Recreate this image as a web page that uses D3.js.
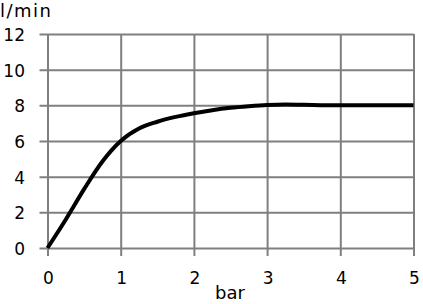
<!DOCTYPE html>
<html>
<head>
<meta charset="utf-8">
<script src="https://cdn.jsdelivr.net/npm/d3@7"></script>
<style>
  body { margin: 0; background: #fff; }
  text { font-family: "DejaVu Sans", Verdana, sans-serif; fill: #000; }
</style>
</head>
<body>
<svg id="chart" width="423" height="304"></svg>
<script>
// data: flow (l/min) against pressure (bar)
let pressure = [0, 0.25, 0.5, 0.75, 1, 1.25, 1.5, 1.75, 2, 2.25, 2.5, 2.75, 3, 3.25, 3.5, 4, 4.5, 5];
let flow = [0, 1.6, 3.3, 4.85, 6.0, 6.7, 7.08, 7.35, 7.56, 7.73, 7.86, 7.95, 8.02, 8.05, 8.03, 8.0, 8.0, 8.0];
let xTicks = [0, 1, 2, 3, 4, 5];
let yTicks = [0, 2, 4, 6, 8, 10, 12];
let xTitle = "bar";
let yTitle = "l/min";

let svg = d3.select("#chart");

// Set up the scales
let x = d3.scaleLinear().domain([0, 5]).range([47.5, 413.5]);
let y = d3.scaleLinear().domain([0, 12]).range([248, 34]);

let gridColor = "#7f7f7f";

// horizontal grid lines (stick out a bit to the left, like ticks)
svg.append("g")
  .attr("transform", "translate(" + x(0) + ",0)")
  .call(d3.axisLeft(y).tickValues(yTicks).tickSizeOuter(0).tickFormat(""))
  .call(g => g.select(".domain").remove())
  .call(g => g.selectAll("line").attr("x1", -8).attr("x2", x(5) - x(0)).attr("stroke", gridColor).attr("stroke-width", 2));

// vertical grid lines (stick out a bit below)
svg.append("g")
  .attr("transform", "translate(0," + y(0) + ")")
  .call(d3.axisBottom(x).tickValues(xTicks).tickSizeOuter(0).tickFormat(""))
  .call(g => g.select(".domain").remove())
  .call(g => g.selectAll("line").attr("y1", y(12) - y(0)).attr("y2", 8).attr("stroke", gridColor).attr("stroke-width", 2));

// tick labels
svg.append("g").selectAll("text")
  .data(yTicks)
  .enter().append("text")
  .attr("x", 25)
  .attr("y", d => y(d) + 7)
  .attr("text-anchor", "end")
  .style("font-size", "17px")
  .text(d => d);

svg.append("g").selectAll("text")
  .data(xTicks)
  .enter().append("text")
  .attr("x", d => x(d) + 1)
  .attr("y", 284)
  .attr("text-anchor", "middle")
  .style("font-size", "17px")
  .text(d => d);

// axis titles
svg.append("text")
  .attr("x", 215)
  .attr("y", 299)
  .style("font-size", "18px")
  .text(xTitle);

svg.append("text")
  .attr("x", 0)
  .attr("y", 17)
  .style("font-size", "18px")
  .attr("textLength", 51)
  .text(yTitle);

// the curve
let lineGenerator = d3.line()
  .x((d, i) => x(pressure[i]))
  .y(d => y(d))
  .curve(d3.curveMonotoneX);

svg.append("path")
  .datum(flow)
  .attr("d", lineGenerator)
  .attr("fill", "none")
  .attr("stroke", "#000")
  .attr("stroke-width", 4)
  .attr("stroke-linejoin", "round");
</script>
</body>
</html>
